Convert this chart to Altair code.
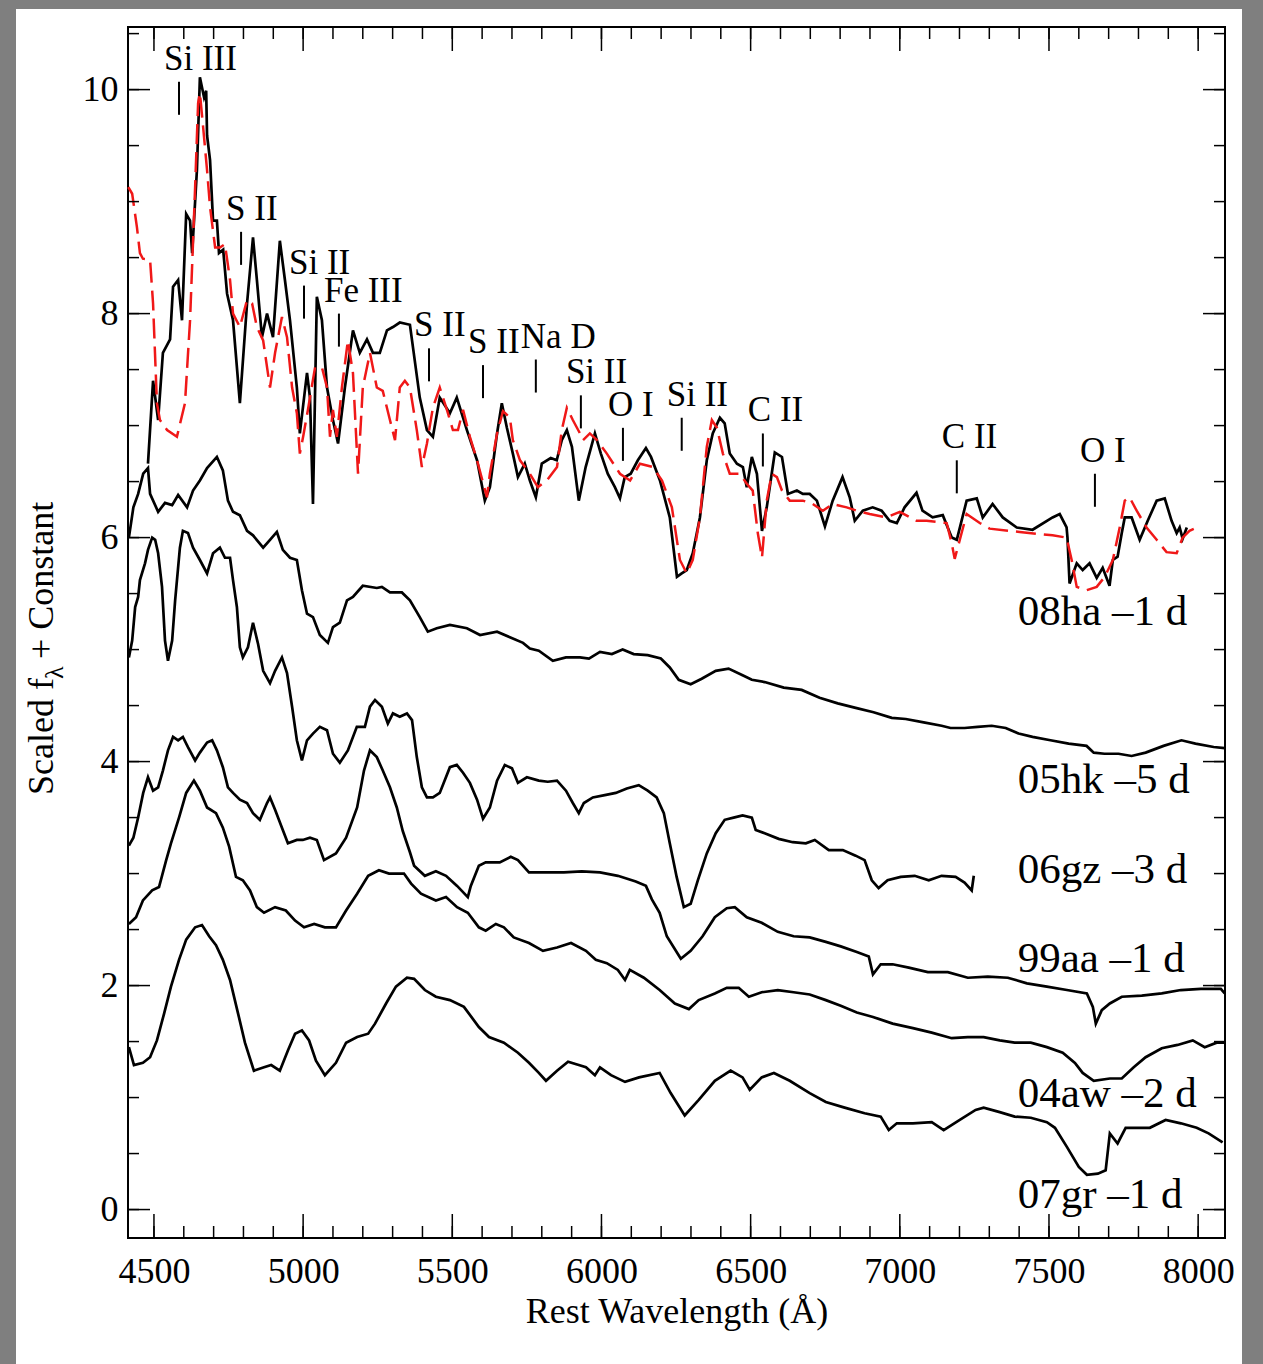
import altair as alt
import pandas as pd

# ------------------------------------------------------------------ data
WL_08HA = [4480, 4497, 4514, 4530, 4554, 4564, 4581, 4594, 4608, 4621,
           4628, 4644, 4654, 4668, 4675, 4678, 4688, 4698, 4711, 4718,
           4732, 4745, 4765, 4788, 4812, 4832, 4845, 4862, 4879, 4899,
           4922, 4939, 4956, 4979, 4989, 5013, 5023, 5033, 5046, 5063,
           5080, 5100, 5117, 5140, 5167, 5190, 5214, 5234, 5257, 5281,
           5301, 5324, 5358, 5391, 5415, 5435, 5458, 5492, 5515, 5549,
           5583,
           5609, 5626, 5650, 5666, 5683, 5703, 5720, 5743, 5760, 5780,
           5800, 5830, 5850, 5867, 5884, 5901, 5924, 5947, 5978, 5998,
           6021, 6045, 6062, 6078, 6098, 6122, 6149, 6166, 6196, 6229,
           6253, 6269, 6286, 6306, 6330, 6353, 6373, 6397, 6413, 6430,
           6454, 6474, 6487, 6504, 6521, 6538, 6554, 6564, 6581, 6605,
           6625, 6655, 6675, 6698, 6722, 6749, 6775,
           6808, 6832, 6849, 6876, 6909, 6939, 6966, 6990, 7016, 7056,
           7076, 7110, 7144, 7174, 7191, 7224, 7258, 7278, 7311, 7345,
           7392, 7445, 7512, 7536, 7559, 7562, 7569, 7593, 7613, 7636,
           7660, 7680, 7703, 7714, 7730, 7744, 7754, 7777, 7804, 7831,
           7861, 7888, 7911, 7928, 7938, 7948, 7962]
FL_08HA = [6.66, 7.40, 7.05, 7.65, 7.77, 8.24, 8.30, 7.94, 8.89, 8.83,
           8.54, 9.28, 10.11, 9.93, 9.99, 9.59, 9.37, 8.83, 8.83, 8.54,
           8.57, 8.18, 7.94, 7.20, 8.09, 8.68, 8.30, 7.79, 8.00, 7.79,
           8.65, 8.30, 7.94, 7.34, 6.93, 7.47, 7.25, 6.30, 8.15, 7.94,
           7.34, 7.05, 6.84, 7.34, 7.85, 7.65, 7.77, 7.65, 7.65, 7.85,
           7.88, 7.92, 7.90, 7.25, 6.96, 6.90, 7.25, 7.11, 7.25, 6.96,
           6.69,
           6.33, 6.45, 6.93, 7.20, 6.98, 6.75, 6.54, 6.66, 6.51, 6.36,
           6.66, 6.71, 6.69, 6.87, 6.96, 6.81, 6.33, 6.63, 6.93, 6.75,
           6.57, 6.45, 6.35, 6.54, 6.57, 6.69, 6.80, 6.72, 6.51, 6.18,
           5.65, 5.68, 5.71, 5.86, 6.18, 6.69, 6.93, 7.07, 7.02, 6.75,
           6.66, 6.63, 6.45, 6.72, 6.57, 6.06, 6.27, 6.45, 6.76, 6.72,
           6.39, 6.42, 6.39, 6.39, 6.33, 6.10, 6.33,
           6.54, 6.36, 6.15, 6.24, 6.27, 6.24, 6.15, 6.13, 6.27, 6.40,
           6.24, 6.18, 6.20, 6.00, 5.98, 6.33, 6.35, 6.18, 6.30, 6.18,
           6.09, 6.07, 6.18, 6.21, 6.09, 6.00, 5.59, 5.77, 5.71, 5.77,
           5.64, 5.73, 5.57, 5.80, 5.83, 6.04, 6.18, 6.18, 5.98, 6.15,
           6.33, 6.35, 6.15, 6.04, 6.09, 5.99, 6.09]

WL_MODEL = [4414, 4427, 4443, 4453, 4463, 4487, 4497, 4510, 4520, 4544,
            4577, 4604, 4621, 4638, 4648, 4654, 4665, 4678, 4688, 4705,
            4721, 4738, 4755, 4765, 4788, 4812, 4829, 4845, 4866, 4889,
            4906, 4929, 4946, 4963, 4979, 4989, 5000, 5016, 5040, 5063,
            5080, 5090, 5100, 5113, 5130, 5150, 5167, 5184, 5200, 5224,
            5247, 5267, 5291, 5308, 5324, 5341, 5358, 5381, 5398, 5415,
            5435, 5458, 5482, 5502, 5519, 5536, 5559, 5583, 5616,
            5626, 5650, 5670, 5693, 5703, 5727, 5760, 5787, 5817, 5851,
            5867, 5884, 5904, 5928, 5938, 5961, 5985, 6018, 6062, 6096,
            6129, 6172, 6203, 6236, 6263, 6286, 6306, 6330, 6353, 6370,
            6387, 6407, 6430, 6464, 6487, 6507, 6524, 6538, 6554, 6571,
            6588, 6605, 6631, 6675, 6708,
            6742, 6775, 6822, 6856, 6899, 6956, 7000, 7056, 7090, 7157,
            7174, 7184, 7201, 7224, 7268, 7301, 7402, 7512, 7559, 7576,
            7593, 7626, 7660, 7687, 7714, 7737, 7754, 7770, 7794, 7827,
            7861, 7894, 7928, 7948, 7971, 7988]
FL_MODEL = [9.13, 9.07, 8.77, 8.54, 8.49, 8.48, 8.09, 7.20, 7.05, 6.96,
            6.90, 7.20, 7.94, 9.13, 9.88, 9.97, 9.66, 9.28, 8.95, 8.59,
            8.59, 8.62, 8.30, 8.00, 7.88, 8.12, 8.09, 7.88, 7.76, 7.34,
            7.65, 7.97, 7.79, 7.34, 7.11, 6.75, 6.90, 7.14, 7.52, 7.52,
            7.34, 6.90, 7.14, 6.90, 7.34, 7.76, 7.47, 6.57, 7.34, 7.65,
            7.34, 7.31, 7.05, 6.87, 7.34, 7.40, 7.34, 6.96, 6.63, 6.84,
            7.16, 7.34, 7.14, 6.96, 6.96, 7.14, 6.90, 6.69, 6.36,
            6.57, 6.93, 7.13, 7.07, 6.87, 6.69, 6.57, 6.45, 6.51, 6.63,
            6.96, 7.16, 7.05, 6.93, 6.87, 6.93, 6.87, 6.75, 6.57, 6.51,
            6.66, 6.63, 6.51, 6.27, 5.80, 5.68, 5.80, 6.18, 6.81, 7.05,
            6.98, 6.75, 6.57, 6.57, 6.48, 6.42, 6.04, 5.82, 6.33, 6.57,
            6.54, 6.42, 6.33, 6.33, 6.30,
            6.24, 6.30, 6.27, 6.24, 6.21, 6.18, 6.23, 6.15, 6.15, 6.13,
            5.95, 5.81, 5.98, 6.21, 6.13, 6.08, 6.05, 6.02, 6.00, 5.80,
            5.56, 5.53, 5.56, 5.65, 5.80, 6.09, 6.33, 6.36, 6.24, 6.09,
            5.98, 5.87, 5.86, 6.00, 6.06, 6.08]

WL_05HK = [4416, 4431, 4447, 4464, 4480, 4487, 4514, 4537, 4561, 4581,
           4611, 4631, 4654, 4678, 4711, 4731, 4748, 4765, 4788, 4812,
           4832, 4866, 4889, 4912, 4932, 4956, 4979, 4996, 5013, 5033,
           5056, 5083, 5100, 5123, 5147, 5167, 5200, 5247, 5264, 5291,
           5331, 5358, 5391, 5418, 5448, 5492, 5549, 5593, 5650, 5693,
           5737, 5760, 5790, 5837, 5881, 5928, 5958, 5995, 6035, 6071,
           6108, 6155, 6199, 6229, 6259, 6299, 6336, 6383, 6426, 6473,
           6504, 6547, 6611, 6671, 6731, 6792, 6852, 6912, 6973, 7020,
           7080, 7140, 7170, 7217, 7261, 7308, 7355, 7398, 7445, 7505,
           7566, 7626, 7650, 7686, 7733, 7777, 7824, 7884, 7944, 7991,
           8052, 8089]
FL_05HK = [6.00, 6.27, 6.39, 6.57, 6.62, 6.39, 6.23, 6.31, 6.29, 6.38,
           6.27, 6.42, 6.51, 6.62, 6.72, 6.60, 6.33, 6.23, 6.20, 6.06,
           6.02, 5.91, 5.98, 6.05, 5.89, 5.82, 5.80, 5.53, 5.32, 5.29,
           5.13, 5.06, 5.20, 5.24, 5.44, 5.47, 5.57, 5.55, 5.56, 5.51,
           5.51, 5.44, 5.29, 5.16, 5.19, 5.22, 5.19, 5.13, 5.16, 5.11,
           5.06, 5.01, 4.99, 4.90, 4.93, 4.93, 4.92, 4.98, 4.96, 5.00,
           4.96, 4.95, 4.92, 4.84, 4.73, 4.69, 4.74, 4.81, 4.83, 4.77,
           4.73, 4.71, 4.66, 4.64, 4.57, 4.52, 4.48, 4.44, 4.39, 4.38,
           4.35, 4.32, 4.30, 4.30, 4.31, 4.32, 4.30, 4.25, 4.22, 4.19,
           4.16, 4.14, 4.08, 4.07, 4.07, 4.05, 4.08, 4.14, 4.19, 4.16,
           4.13, 4.12]

WL_06GZ = [4416, 4427, 4437, 4447, 4453, 4470, 4480, 4494, 4504, 4514,
           4527, 4537, 4547, 4561, 4571, 4587, 4597, 4614, 4631, 4654,
           4678, 4698, 4721, 4738, 4755, 4765, 4778, 4788, 4798, 4815,
           4832, 4849, 4866, 4889, 4906, 4929, 4946, 4963, 4979, 4996,
           5013, 5033, 5056, 5080, 5100, 5123, 5150, 5180, 5207, 5224,
           5241, 5264, 5284, 5301, 5324, 5348, 5365, 5381, 5398, 5415,
           5435, 5458, 5492, 5515, 5536, 5559, 5583, 5603, 5626, 5650,
           5676, 5700, 5720, 5750, 5790, 5820, 5851, 5881, 5904, 5924,
           5941, 5971, 6011, 6048, 6085, 6125, 6155, 6185, 6209, 6229,
           6252, 6276, 6299, 6323, 6353, 6383, 6413, 6443, 6473, 6504,
           6517, 6547, 6594, 6641, 6685, 6715, 6762, 6809, 6852, 6882,
           6906, 6929, 6959, 7003, 7050, 7097, 7140, 7187, 7217, 7241,
           7248]
FL_06GZ = [4.93, 5.08, 5.38, 5.47, 5.62, 5.77, 5.89, 6.00, 5.98, 5.86,
           5.56, 5.08, 4.90, 5.08, 5.44, 5.91, 6.06, 6.04, 5.91, 5.80,
           5.68, 5.86, 5.91, 5.82, 5.82, 5.62, 5.38, 5.02, 4.93, 5.02,
           5.24, 5.05, 4.81, 4.70, 4.81, 4.93, 4.79, 4.49, 4.19, 4.01,
           4.19, 4.25, 4.31, 4.28, 4.07, 3.99, 4.10, 4.31, 4.31, 4.49,
           4.55, 4.49, 4.34, 4.43, 4.40, 4.43, 4.37, 4.04, 3.77, 3.68,
           3.68, 3.72, 3.95, 3.97, 3.90, 3.81, 3.66, 3.49, 3.59, 3.83,
           3.97, 3.94, 3.81, 3.86, 3.83, 3.82, 3.83, 3.74, 3.63, 3.54,
           3.63, 3.68, 3.70, 3.72, 3.76, 3.79, 3.74, 3.68, 3.54, 3.27,
           2.97, 2.70, 2.73, 2.94, 3.18, 3.36, 3.48, 3.50, 3.52, 3.50,
           3.39, 3.36, 3.31, 3.28, 3.27, 3.30, 3.21, 3.21, 3.16, 3.12,
           2.94, 2.87, 2.94, 2.97, 2.98, 2.94, 2.98, 2.97, 2.92, 2.85,
           2.98]

WL_99AA = [4416, 4431, 4447, 4464, 4480, 4497, 4514, 4530, 4547, 4564,
           4581, 4597, 4614, 4638, 4654, 4678, 4695, 4711, 4731, 4748,
           4765, 4788, 4812, 4832, 4855, 4879, 4889, 4906, 4929, 4949,
           4979, 4999, 5023, 5046, 5070, 5110, 5144, 5181, 5204, 5224,
           5247, 5267, 5291, 5314, 5334, 5358, 5372, 5408, 5445, 5479,
           5516, 5552, 5562, 5589, 5612, 5659, 5696, 5720, 5757, 5814,
           5874, 5934, 5995, 6055, 6115, 6149, 6169, 6195, 6219, 6266,
           6299, 6339, 6380, 6420, 6447, 6487, 6537, 6591, 6644, 6698,
           6752, 6802, 6856, 6896, 6910, 6936, 6976, 7030, 7094, 7161,
           7228, 7295, 7362, 7426, 7493, 7560, 7627, 7647, 7657, 7677,
           7704, 7744, 7811, 7878, 7942, 8009, 8076, 8089]
FL_99AA = [3.25, 3.32, 3.50, 3.72, 3.86, 3.74, 3.77, 3.92, 4.10, 4.22,
           4.19, 4.22, 4.13, 4.01, 4.08, 4.17, 4.19, 4.10, 3.95, 3.77,
           3.72, 3.66, 3.63, 3.54, 3.48, 3.63, 3.68, 3.57, 3.41, 3.27,
           3.30, 3.30, 3.32, 3.30, 3.12, 3.18, 3.32, 3.59, 3.92, 4.10,
           4.04, 3.92, 3.77, 3.59, 3.38, 3.19, 3.07, 2.98, 3.02, 2.98,
           2.89, 2.79, 2.89, 3.07, 3.10, 3.10, 3.15, 3.12, 3.01, 3.01,
           3.01, 3.02, 3.01, 2.98, 2.93, 2.89, 2.77, 2.65, 2.44, 2.24,
           2.31, 2.44, 2.61, 2.69, 2.70, 2.61, 2.56, 2.48, 2.44, 2.43,
           2.39, 2.35, 2.30, 2.26, 2.10, 2.19, 2.19, 2.16, 2.12, 2.12,
           2.07, 2.08, 2.07, 2.02, 1.99, 1.96, 1.93, 1.81, 1.66, 1.78,
           1.84, 1.90, 1.91, 1.93, 1.96, 1.97, 1.97, 1.93]

WL_04AW = [4416, 4440, 4463, 4494, 4517, 4541, 4557, 4584, 4608, 4634,
           4654, 4678, 4708, 4731, 4752, 4775, 4798, 4822, 4845, 4869,
           4906, 4942, 4973, 5003, 5037, 5073, 5110, 5144, 5181, 5218,
           5254, 5288, 5338, 5362, 5395, 5445, 5479, 5516, 5552, 5589,
           5612, 5646, 5673, 5706, 5757, 5804, 5851, 5898, 5948, 5981,
           6018, 6055, 6079, 6095, 6142, 6195, 6246, 6293, 6326, 6380,
           6420, 6460, 6494, 6537, 6591, 6644, 6698, 6752, 6802, 6856,
           6910, 6976, 7044, 7107, 7174, 7228, 7281, 7335, 7385, 7439,
           7493, 7546, 7587, 7613, 7650, 7704, 7744, 7784, 7824, 7878,
           7931, 7982, 8022, 8062, 8089]
FL_04AW = [2.55, 2.61, 2.76, 2.85, 2.88, 3.12, 3.27, 3.50, 3.72, 3.83,
           3.74, 3.59, 3.54, 3.41, 3.24, 2.97, 2.94, 2.85, 2.70, 2.65,
           2.70, 2.67, 2.58, 2.52, 2.55, 2.52, 2.52, 2.67, 2.82, 2.98,
           3.03, 3.00, 3.00, 2.91, 2.82, 2.76, 2.79, 2.70, 2.65, 2.52,
           2.49, 2.55, 2.52, 2.43, 2.38, 2.31, 2.34, 2.38, 2.31, 2.23,
           2.20, 2.14, 2.05, 2.14, 2.07, 1.96, 1.84, 1.79, 1.87, 1.93,
           1.98, 1.98, 1.90, 1.94, 1.96, 1.94, 1.92, 1.87, 1.82, 1.76,
           1.72, 1.66, 1.62, 1.58, 1.53, 1.54, 1.54, 1.51, 1.49, 1.49,
           1.45, 1.40, 1.31, 1.22, 1.15, 1.17, 1.17, 1.27, 1.36, 1.44,
           1.47, 1.51, 1.45, 1.49, 1.49]

WL_07GR = [4416, 4433, 4463, 4487, 4510, 4534, 4557, 4584, 4608, 4638,
           4661, 4685, 4708, 4731, 4755, 4782, 4805, 4835, 4869, 4893,
           4922, 4949, 4973, 4996, 5020, 5043, 5073, 5110, 5144, 5181,
           5218, 5241, 5278, 5311, 5348, 5372, 5408, 5445, 5492, 5539,
           5589, 5623, 5673, 5720, 5757, 5790, 5814, 5851, 5888, 5924,
           5948, 5978, 5995, 6032, 6079, 6126, 6195, 6232, 6279, 6326,
           6380, 6433, 6473, 6497, 6537, 6578, 6631, 6698, 6752, 6815,
           6882, 6936, 6963, 6990, 7044, 7107, 7147, 7201, 7254, 7281,
           7335, 7385, 7439, 7493, 7520, 7560, 7600, 7627, 7664, 7690,
           7704, 7730, 7757, 7797, 7838, 7891, 7942, 7995, 8035, 8082]
FL_07GR = [1.45, 1.29, 1.31, 1.36, 1.51, 1.75, 1.99, 2.23, 2.41, 2.52,
           2.54, 2.44, 2.36, 2.23, 2.05, 1.75, 1.49, 1.24, 1.27, 1.29,
           1.24, 1.42, 1.57, 1.60, 1.51, 1.33, 1.20, 1.31, 1.49, 1.54,
           1.57, 1.66, 1.84, 1.99, 2.07, 2.06, 1.96, 1.90, 1.87, 1.81,
           1.63, 1.54, 1.49, 1.40, 1.31, 1.22, 1.15, 1.24, 1.32, 1.29,
           1.27, 1.20, 1.27, 1.20, 1.14, 1.18, 1.22, 1.04, 0.84, 0.98,
           1.15, 1.24, 1.18, 1.07, 1.18, 1.22, 1.15, 1.04, 0.96, 0.91,
           0.86, 0.83, 0.71, 0.77, 0.77, 0.78, 0.71, 0.80, 0.89, 0.91,
           0.87, 0.83, 0.82, 0.78, 0.73, 0.56, 0.38, 0.31, 0.32, 0.35,
           0.68, 0.59, 0.73, 0.73, 0.73, 0.80, 0.77, 0.73, 0.68, 0.60]

# line identifications: name, wavelength of marker, flux at marker top
ION_NAMES = ["Si III", "S II", "Si II", "Fe III", "S II", "S II", "Na D",
             "Si II", "O I", "Si II", "C II", "C II", "O I"]
ION_WL = [4584, 4792, 5003, 5120, 5422, 5603, 5780, 5931, 6072, 6269,
          6541, 7191, 7654]
ION_TOP = [10.07, 8.73, 8.25, 8.00, 7.69, 7.54, 7.59, 7.27, 6.98, 7.07,
           6.93, 6.69, 6.57]
ION_LEN = 0.295

# spectrum labels
SN_LABELS = ["08ha \u20131 d", "05hk \u20135 d", "06gz \u20133 d",
             "99aa \u20131 d", "04aw \u20132 d", "07gr \u20131 d"]
SN_LABEL_WL = [7395, 7395, 7395, 7395, 7395, 7395]
SN_LABEL_Y = [5.217, 3.717, 2.913, 2.119, 0.913, 0.012]

X_MAJOR = [4500, 5000, 5500, 6000, 6500, 7000, 7500, 8000]
X_MINOR = list(range(4500, 8001, 100))
Y_MAJOR = [0, 2, 4, 6, 8, 10]
Y_MINOR = [0, 0.5, 1, 1.5, 2, 2.5, 3, 3.5, 4, 4.5, 5, 5.5, 6, 6.5, 7, 7.5,
           8, 8.5, 9, 9.5, 10, 10.5]

X_DOMAIN = [4413, 8090]
Y_DOMAIN = [-0.254, 10.559]

# ------------------------------------------------------------------ layout
W, H = 1097, 1211
PAD_L, PAD_T = 128, 27
TOTAL_W, TOTAL_H = 1263, 1364
FONT = "Liberation Serif"


def spec(name, wl, fl):
    return pd.DataFrame({"wl": wl, "f": fl, "sn": name})


black_df = pd.concat([
    spec("08ha", WL_08HA, FL_08HA),
    spec("05hk", WL_05HK, FL_05HK),
    spec("06gz", WL_06GZ, FL_06GZ),
    spec("99aa", WL_99AA, FL_99AA),
    spec("04aw", WL_04AW, FL_04AW),
    spec("07gr", WL_07GR, FL_07GR),
], ignore_index=True)
model_df = spec("model", WL_MODEL, FL_MODEL)

ion_df = pd.DataFrame({"name": ION_NAMES, "wl": ION_WL, "f": ION_TOP})
ion_df["f2"] = ion_df["f"] - ION_LEN
lab_df = pd.DataFrame({"name": SN_LABELS, "wl": SN_LABEL_WL, "f": SN_LABEL_Y})

xs = alt.Scale(domain=X_DOMAIN, nice=False, zero=False)
ys = alt.Scale(domain=Y_DOMAIN, nice=False, zero=False)

x_axis = alt.Axis(values=X_MAJOR, ticks=False, domain=False, grid=False,
                  labelFont=FONT, labelFontSize=36, labelColor="black",
                  labelPadding=16, labelOverlap=False, labelFlush=False,
                  format="d", title="Rest Wavelength (\u00c5)",
                  titleFont=FONT, titleFontSize=36, titleFontWeight="normal",
                  titleColor="black", titleBaseline="alphabetic", titleY=84)
y_axis = alt.Axis(values=Y_MAJOR, ticks=False, domain=False, grid=False,
                  labelFont=FONT, labelFontSize=36, labelColor="black",
                  labelPadding=10, labelOverlap=False, labelFlush=False,
                  format="d", title="")


def X():
    return alt.X("wl:Q", scale=xs, axis=x_axis)


def Y():
    return alt.Y("f:Q", scale=ys, axis=y_axis)


one = pd.DataFrame({"k": [0]})

# gray frame strips around the figure
strips = [
    alt.Chart(one).mark_rect(color="#7f7f7f").encode(
        x=alt.value(-PAD_L), x2=alt.value(16 - PAD_L),
        y=alt.value(-PAD_T), y2=alt.value(TOTAL_H - PAD_T)),
    alt.Chart(one).mark_rect(color="#7f7f7f").encode(
        x=alt.value(1242 - PAD_L), x2=alt.value(TOTAL_W - PAD_L),
        y=alt.value(-PAD_T), y2=alt.value(TOTAL_H - PAD_T)),
    alt.Chart(one).mark_rect(color="#7f7f7f").encode(
        x=alt.value(-PAD_L), x2=alt.value(TOTAL_W - PAD_L),
        y=alt.value(-PAD_T), y2=alt.value(9 - PAD_T)),
]

spectra = alt.Chart(black_df).mark_line(color="black", strokeWidth=2.7).encode(
    x=X(), y=Y(), detail="sn:N")

model = alt.Chart(model_df).mark_line(
    color="#f01818", strokeWidth=2.5, strokeDash=[20, 8]).encode(
    x=X(), y=Y())

ion_ticks = alt.Chart(ion_df).mark_rule(color="black", strokeWidth=2).encode(
    x=X(), y=Y(), y2="f2:Q")
ion_text = alt.Chart(ion_df).mark_text(
    align="left", baseline="alphabetic", dx=-15, dy=-12,
    font=FONT, fontSize=35, color="black").encode(x=X(), y=Y(), text="name:N")

sn_text = alt.Chart(lab_df).mark_text(
    align="left", baseline="alphabetic", font=FONT, fontSize=43,
    color="black").encode(x=X(), y=Y(), text="name:N")

xmaj = pd.DataFrame({"wl": X_MAJOR})
xmin = pd.DataFrame({"wl": X_MINOR})
ymaj = pd.DataFrame({"f": Y_MAJOR})
ymin = pd.DataFrame({"f": Y_MINOR})
tk = dict(color="black", strokeWidth=1.5)
frame_ticks = [
    alt.Chart(xmaj).mark_rule(**tk).encode(x=X(), y=alt.value(H), y2=alt.value(H - 24)),
    alt.Chart(xmin).mark_rule(**tk).encode(x=X(), y=alt.value(H), y2=alt.value(H - 12)),
    alt.Chart(xmaj).mark_rule(**tk).encode(x=X(), y=alt.value(0), y2=alt.value(24)),
    alt.Chart(xmin).mark_rule(**tk).encode(x=X(), y=alt.value(0), y2=alt.value(12)),
    alt.Chart(ymaj).mark_rule(**tk).encode(y=Y(), x=alt.value(0), x2=alt.value(22)),
    alt.Chart(ymin).mark_rule(**tk).encode(y=Y(), x=alt.value(0), x2=alt.value(11)),
    alt.Chart(ymaj).mark_rule(**tk).encode(y=Y(), x=alt.value(W), x2=alt.value(W - 22)),
    alt.Chart(ymin).mark_rule(**tk).encode(y=Y(), x=alt.value(W), x2=alt.value(W - 11)),
]

# rotated y title with subscript lambda
ytitle = [
    alt.Chart(one).mark_text(angle=270, align="left", baseline="alphabetic",
                             font=FONT, fontSize=36, color="black",
                             text="Scaled f").encode(
        x=alt.value(-75), y=alt.value(768)),
    alt.Chart(one).mark_text(angle=270, align="left", baseline="alphabetic",
                             font=FONT, fontSize=26, color="black",
                             text="\u03bb").encode(
        x=alt.value(-65), y=alt.value(652)),
    alt.Chart(one).mark_text(angle=270, align="left", baseline="alphabetic",
                             font=FONT, fontSize=36, color="black",
                             text="+ Constant").encode(
        x=alt.value(-75), y=alt.value(632)),
]

chart = alt.layer(
    *strips, spectra, model, ion_ticks, ion_text, sn_text, *frame_ticks, *ytitle
).properties(
    width=W, height=H,
    autosize=alt.AutoSizeParams(type="none"),
    padding={"left": PAD_L, "top": PAD_T,
             "right": TOTAL_W - PAD_L - W, "bottom": TOTAL_H - PAD_T - H},
    background="white",
).configure_view(stroke="black", strokeWidth=2)

chart.save("out.html", embed_options={"renderer": "svg", "actions": False})
